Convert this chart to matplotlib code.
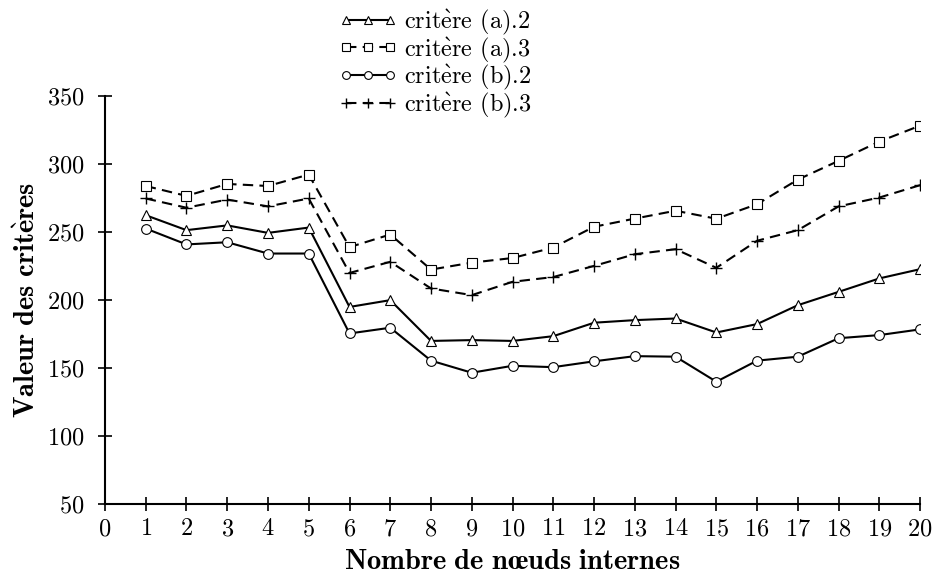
import matplotlib
matplotlib.use("Agg")
import matplotlib.pyplot as plt

plt.rcParams['font.family'] = ['cmr10', 'DejaVu Serif']
plt.rcParams['mathtext.fontset'] = 'cm'
plt.rcParams['axes.formatter.use_mathtext'] = True

noeuds = list(range(1, 21))
crit_a2 = [262.5, 251.5, 255, 249.5, 253.4, 195, 200, 170, 170.6, 170, 173.5, 183.4, 185.3,
           186.5, 176.2, 182.4, 196.3, 206.1, 216, 222.8]
crit_a3 = [284, 276.7, 285.5, 284, 292.4, 239, 248.3, 222.5, 227.6, 231, 238.7, 254, 260,
           265.8, 259.9, 270.6, 288.7, 302.5, 316.7, 328.4]
crit_b2 = [252.7, 241, 242.6, 234.3, 234.3, 175.5, 179.7, 155.5, 146.6, 151.7, 150.7, 155, 158.8,
           158.4, 140, 155.5, 158.4, 172, 174.3, 178.5]
crit_b3 = [274.8, 268, 274, 269, 274.8, 220, 228.2, 208.6, 203.7, 213.5, 217, 225.2, 233.8,
           237.5, 223.8, 243.7, 251.5, 269, 275.5, 284.6]

labels = [r'crit$\grave{\mathrm{e}}$re (a).2', r'crit$\grave{\mathrm{e}}$re (a).3',
          r'crit$\grave{\mathrm{e}}$re (b).2', r'crit$\grave{\mathrm{e}}$re (b).3']

fig = plt.figure(figsize=(9.37, 5.8), dpi=100)
ax = fig.add_axes([0.112, 0.131, 0.870, 0.703])

dash = (0, (5, 3))
ax.plot(noeuds, crit_a2, color='black', lw=1.5, marker='^', ms=7, mfc='white', mew=0.8,
        label=labels[0])
ax.plot(noeuds, crit_a3, color='black', lw=1.5, ls=dash, marker='s', ms=6.5, mfc='white', mew=0.8,
        label=labels[1])
ax.plot(noeuds, crit_b2, color='black', lw=1.5, marker='o', ms=7, mfc='white', mew=0.8,
        label=labels[2])
ax.plot(noeuds, crit_b3, color='black', lw=1.5, ls=dash, marker='+', ms=9, mew=1.0,
        label=labels[3])

ax.set_xlim(0, 20)
ax.set_ylim(50, 350)
ax.set_xticks(range(0, 21))
ax.set_yticks(range(50, 351, 50))
ax.spines['top'].set_visible(False)
ax.spines['right'].set_visible(False)
ax.spines['left'].set_linewidth(1.5)
ax.spines['bottom'].set_linewidth(1.5)
ax.tick_params(direction='inout', length=10, width=1.2, labelsize=17.5)
ax.tick_params(axis='x', pad=5)
ax.tick_params(axis='y', pad=10)

ax.set_xlabel(r'$\mathbf{Nombre\ de\ n\oe uds\ internes}$', fontsize=20.5, labelpad=6)
ax.set_ylabel(r'$\mathbf{Valeur\ des\ crit\grave{e}res}$', fontsize=20.5, labelpad=4)

fig.legend(loc='upper left', bbox_to_anchor=(0.349, 1.008), frameon=False, fontsize=17.5,
           numpoints=3, handlelength=2.4, handletextpad=0.25, labelspacing=-0.05,
           borderaxespad=0.1, markerscale=0.8)

fig.savefig('out.png', dpi=100)
